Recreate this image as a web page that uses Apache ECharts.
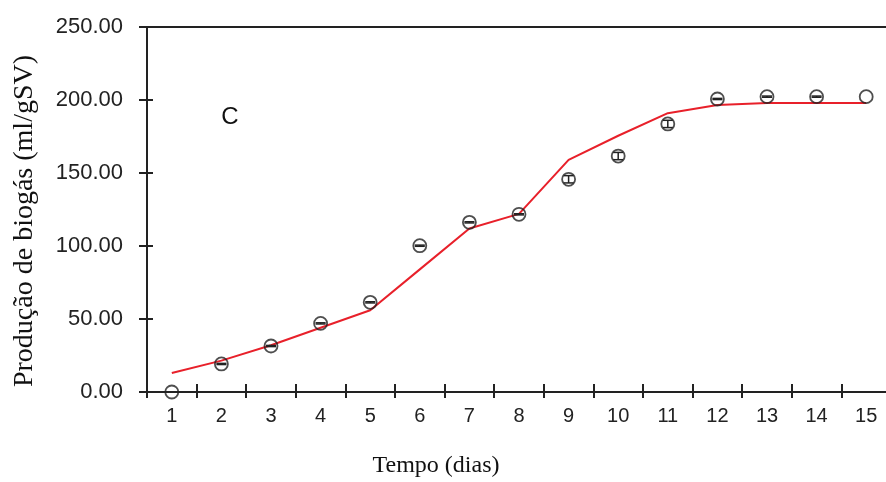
<!DOCTYPE html>
<html>
<head>
<meta charset="utf-8">
<script src="https://cdn.jsdelivr.net/npm/echarts@6/dist/echarts.min.js"></script>
<style>html,body{margin:0;padding:0;background:#fff;}#c{width:886px;height:482px;}</style>
</head>
<body>
<div id="c"></div>
<script>
const categories = ['1','2','3','4','5','6','7','8','9','10','11','12','13','14','15'];
const observed = [0, 19.2, 31.5, 47, 61.4, 100.2, 116.2, 121.7, 145.7, 161.6, 183.6, 200.7, 202.3, 202.3, 202.3];
const errors = [0, 0.4, 0.4, 0.4, 0.4, 0.4, 0.4, 0.4, 2.5, 2.5, 2.5, 0.4, 0.4, 0.4, 0];
const fitted = [13, 21.5, 32, 44, 56, 84, 112, 122, 159, 175.5, 191, 196.5, 198, 198, 198];
const yTicks = [0, 50, 100, 150, 200, 250];
const xTitle = 'Tempo (dias)';
const yTitle = 'Produção de biogás (ml/gSV)';
const panelLabel = 'C';

const ink = '#222';
const chart = echarts.init(document.getElementById('c'), null, {renderer: 'canvas'});
const gridPos = {left: 147, width: 744, top: 27, bottom: 90, outerBoundsMode: 'none', containLabel: false};
const errData = observed.map((v, i) => [i, v - errors[i], v + errors[i]]);

chart.setOption({
  animation: false,
  backgroundColor: '#fff',
  grid: [
    Object.assign({show: true, borderColor: ink, borderWidth: 2, backgroundColor: 'transparent'}, gridPos),
    Object.assign({}, gridPos)
  ],
  xAxis: [
    {
      type: 'category', gridIndex: 0, data: categories, boundaryGap: true,
      axisLine: {lineStyle: {color: ink, width: 2}},
      axisTick: {show: true, inside: false, length: 6, lineStyle: {color: ink, width: 2}},
      axisLabel: {color: ink, fontFamily: 'Liberation Sans', fontSize: 20, margin: 14}
    },
    {
      type: 'category', gridIndex: 1, data: categories, boundaryGap: true, position: 'bottom',
      axisLine: {show: false},
      axisTick: {show: true, inside: true, length: 8, lineStyle: {color: ink, width: 2}},
      axisLabel: {show: false}
    }
  ],
  yAxis: [
    {
      type: 'value', gridIndex: 0, min: yTicks[0], max: yTicks[yTicks.length - 1], interval: 50,
      splitLine: {show: false},
      axisLine: {show: true, lineStyle: {color: ink, width: 2}},
      axisTick: {show: true, inside: false, length: 8, lineStyle: {color: ink, width: 2}},
      axisLabel: {color: ink, fontFamily: 'Liberation Sans', fontSize: 22, margin: 24,
        formatter: v => v.toFixed(2)}
    },
    {
      type: 'value', gridIndex: 1, min: yTicks[0], max: yTicks[yTicks.length - 1], interval: 50,
      splitLine: {show: false},
      axisLine: {show: false},
      axisTick: {show: true, inside: true, length: 6, lineStyle: {color: ink, width: 2}},
      axisLabel: {show: false}
    }
  ],
  series: [
    {
      type: 'line', xAxisIndex: 0, yAxisIndex: 0, data: fitted,
      symbol: 'none', lineStyle: {color: '#e8202a', width: 2}, z: 2
    },
    {
      type: 'custom', xAxisIndex: 0, yAxisIndex: 0, data: errData, z: 3,
      renderItem: function (params, api) {
        const i = api.value(0);
        const lo = api.coord([i, api.value(1)]);
        const hi = api.coord([i, api.value(2)]);
        if (api.value(2) - api.value(1) <= 0) return null;
        const w = 5;
        const st = {stroke: ink, lineWidth: 1.5};
        return {type: 'group', children: [
          {type: 'line', shape: {x1: lo[0], y1: lo[1], x2: hi[0], y2: hi[1]}, style: st},
          {type: 'line', shape: {x1: lo[0] - w, y1: lo[1], x2: lo[0] + w, y2: lo[1]}, style: st},
          {type: 'line', shape: {x1: hi[0] - w, y1: hi[1], x2: hi[0] + w, y2: hi[1]}, style: st}
        ]};
      }
    },
    {
      type: 'scatter', xAxisIndex: 0, yAxisIndex: 0, data: observed,
      symbol: 'circle', symbolSize: 13, z: 4,
      itemStyle: {color: 'rgba(0,0,0,0)', borderColor: ink, borderWidth: 1.8}
    }
  ],
  graphic: [
    {type: 'text', x: 230, y: 117, z: 10,
      style: {text: panelLabel, fill: '#111', font: '24px "Liberation Sans"', align: 'center', verticalAlign: 'middle'}},
    {type: 'text', x: 436, y: 466, z: 10,
      style: {text: xTitle, fill: '#111', font: '24px "Liberation Serif"', align: 'center', verticalAlign: 'middle'}},
    {type: 'text', x: 25, y: 221, rotation: Math.PI / 2, z: 10,
      style: {text: yTitle, fill: '#111', font: '28px "Liberation Serif"', align: 'center', verticalAlign: 'middle'}}
  ]
});
</script>
</body>
</html>
